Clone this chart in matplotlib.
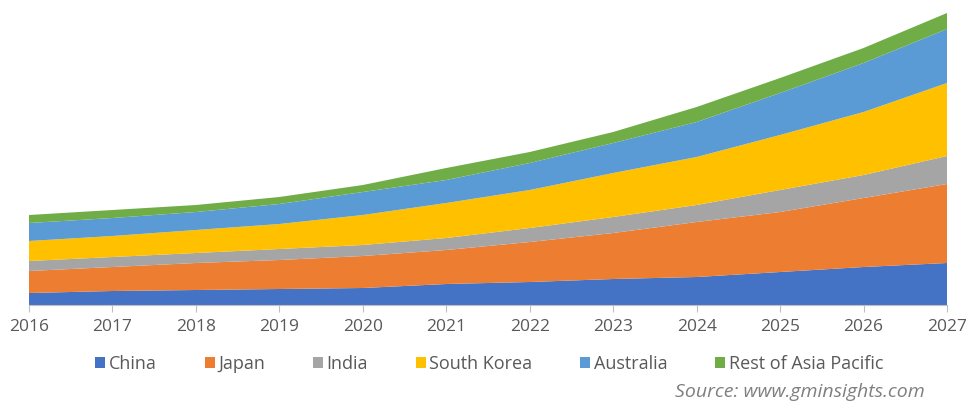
import matplotlib
matplotlib.use("Agg")
import matplotlib.pyplot as plt
from matplotlib.patches import Patch

years = [2016, 2017, 2018, 2019, 2020, 2021, 2022, 2023, 2024, 2025, 2026, 2027]
china = [12, 14, 15, 16, 17, 21, 23, 26, 28, 33, 38, 42]
japan = [22, 24, 27, 29, 32, 34, 40, 46, 55, 60, 69, 79]
india = [10, 10, 10, 11, 11, 12, 14, 16, 17, 22, 23, 28]
south_korea = [20, 21, 23, 25, 30, 35, 38, 44, 48, 55, 63, 73]
australia = [18, 18, 18, 20, 23, 23, 27, 30, 35, 42, 49, 54]
rest_apac = [8, 8, 7, 7, 7, 12, 11, 11, 15, 15, 15, 16]

series_names = ["China", "Japan", "India", "South Korea", "Australia", "Rest of Asia Pacific"]
colors = ["#4472C4", "#ED7D31", "#A5A5A5", "#FFC000", "#5B9BD5", "#70AD47"]

plt.rcParams['font.family'] = ['Open Sans', 'DejaVu Sans']

fig = plt.figure(figsize=(9.67, 4.03), dpi=100)
ax = fig.add_axes([29/967, (403-305)/403, 918/967, 300/403])
ax.stackplot(years, china, japan, india, south_korea, australia, rest_apac,
             colors=colors, linewidth=0)
ax.set_xlim(2016, 2027)
ax.set_ylim(0, 300)
ax.set_xticks(years)
ax.set_xticklabels([str(y) for y in years], fontsize=12.5, color="#595959")
ax.tick_params(axis='x', length=5, color="#BFBFBF", pad=5)
ax.set_yticks([])
for s in ["top", "left", "right"]:
    ax.spines[s].set_visible(False)
ax.spines["bottom"].set_color("#BFBFBF")

handles = [Patch(facecolor=c, edgecolor='none') for c in colors]
fig.legend(handles, series_names, loc='center', bbox_to_anchor=(0.506, (403-364)/403),
           ncol=6, frameon=False, fontsize=13, handlelength=0.55, handleheight=0.55,
           handletextpad=0.2, columnspacing=2.65, labelcolor="#595959")

fig.text(925/967, (403-392)/403, "Source: www.gminsights.com", ha='right', va='center',
         fontsize=14, style='italic', color="#7F7F7F")

fig.savefig("out.png", dpi=100)
